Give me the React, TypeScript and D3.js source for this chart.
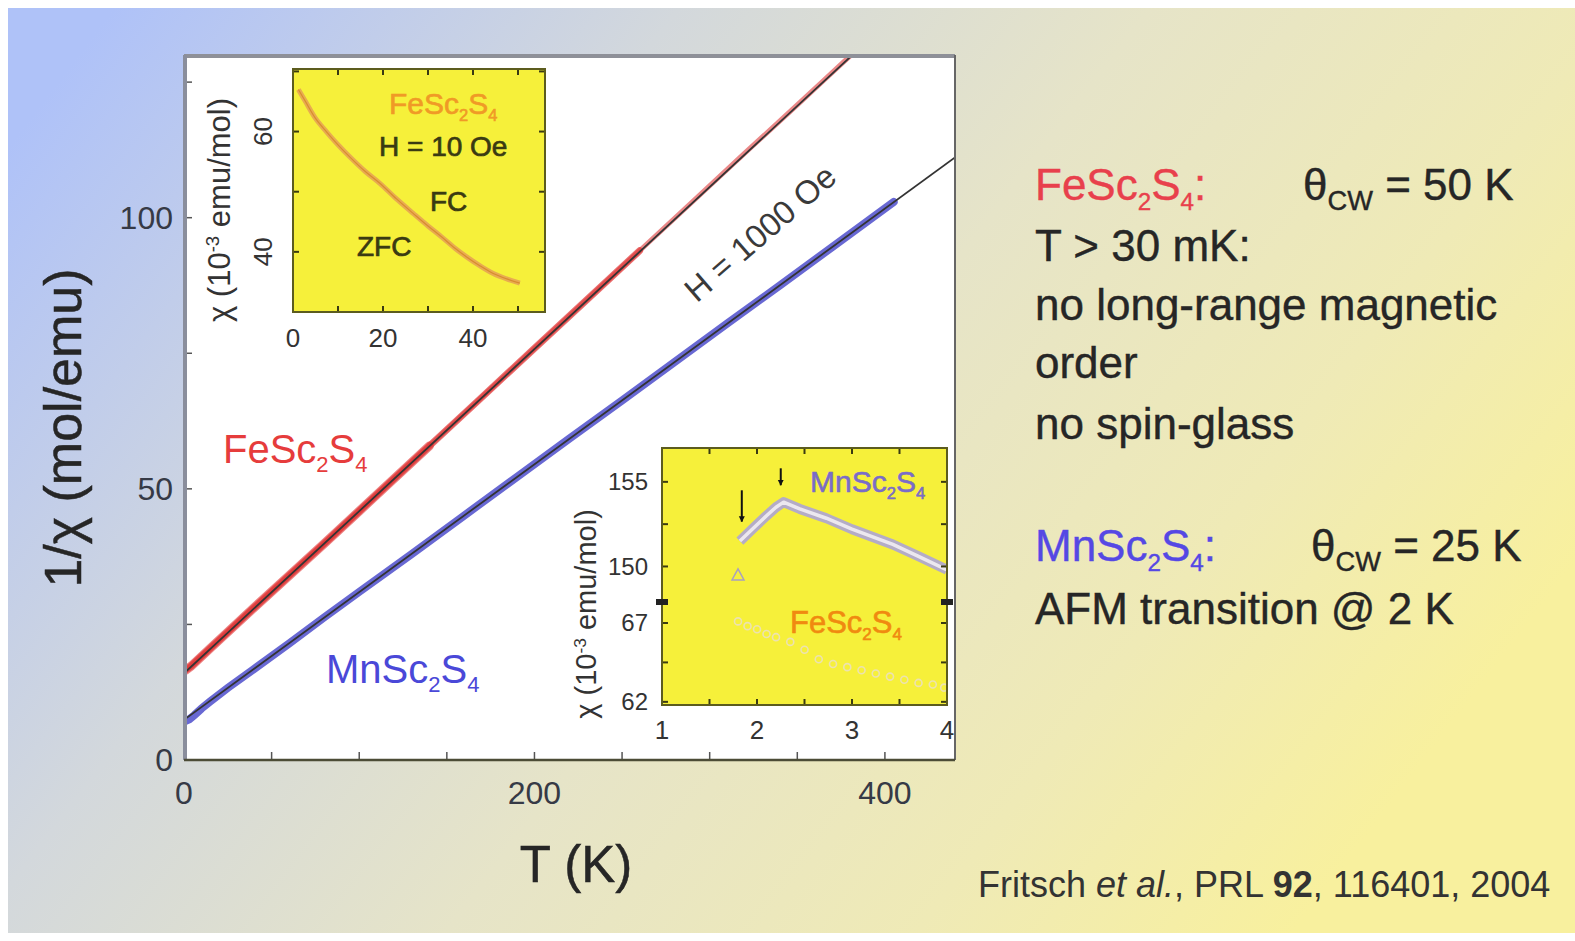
import * as d3 from 'd3';

const FONT = '"Liberation Sans", Arial, Helvetica, sans-serif';

// main panel: 1/chi (mol/emu) vs T (K), H = 1000 Oe
const feT = [1, 4, 8, 15, 25, 40, 60, 80, 100, 120, 140, 170, 200, 230, 260, 290, 320, 350, 365, 380];
const feInvChi = [16.6, 17.3, 18.5, 20.6, 23.6, 28.1, 34.0, 39.9, 45.9, 51.9, 57.9, 66.9, 75.9, 84.9, 93.9, 102.9, 111.9, 120.8, 125.3, 129.8];
const mnT = [1, 3, 6, 10, 15, 25, 40, 60, 80, 100, 130, 160, 190, 220, 250, 280, 310, 340, 370, 405];
const mnInvChi = [7.2, 7.5, 8.3, 9.5, 10.8, 13.3, 16.8, 21.5, 26.3, 31.0, 38.0, 45.1, 52.2, 59.3, 66.3, 73.4, 80.5, 87.5, 94.6, 102.9];
const fitT = [0, 440];
const feFit = [16.0, 147.5];
const mnFit = [7.4, 111.1];
const mainXTicks = [0, 200, 400];
const mainXMinor = [50, 100, 150, 250, 300, 350];
const mainYTicks = [0, 50, 100];
const mainYMinor = [25, 75, 125];

// inset 1: FeSc2S4 chi (1e-3 emu/mol) vs T, H = 10 Oe
const in1T = [1.2, 3, 5, 7.4, 10, 12.6, 16, 19.3, 23, 26.7, 30, 33, 36, 38.5, 41.5, 44.5, 47.5, 50.4];
const in1Chi = [67.0, 64.7, 62.2, 60.0, 57.8, 55.8, 53.4, 51.4, 48.8, 46.4, 44.3, 42.5, 40.6, 39.2, 37.7, 36.4, 35.5, 34.8];
const in1XTicks = [0, 10, 20, 30, 40, 50];
const in1XLabels = [0, 20, 40];
const in1YTicks = [40, 50, 60, 70];
const in1YLabels = [40, 60];

// inset 2: low-T chi, broken y axis
const in2MnT = [1.82, 1.95, 2.1, 2.2, 2.28, 2.45, 2.73, 3.0, 3.43, 3.7, 4.0];
const in2MnChi = [151.5, 152.2, 153.0, 153.5, 153.8, 153.4, 152.85, 152.2, 151.3, 150.6, 149.8];
const in2MnLoneT = [1.8];
const in2MnLoneChi = [149.5];
const in2FeT = [1.8, 1.9, 2.0, 2.1, 2.2, 2.35, 2.5, 2.65, 2.8, 2.95, 3.1, 3.25, 3.4, 3.55, 3.7, 3.85, 3.97];
const in2FeChi = [67.1, 66.8, 66.6, 66.3, 66.1, 65.8, 65.3, 64.7, 64.4, 64.2, 64.0, 63.8, 63.6, 63.4, 63.2, 63.1, 62.9];
const in2ArrowT = [1.84, 2.25];
const in2ArrowFrom = [154.5, 155.8];
const in2ArrowTo = [152.65, 154.8];
const in2XTicks = [1, 1.5, 2, 2.5, 3, 3.5, 4];
const in2XLabels = [1, 2, 3, 4];
const in2UpTicks = [150, 152.5, 155];
const in2UpLabels = [150, 155];
const in2LoTicks = [62, 64.5, 67];
const in2LoLabels = [62, 67];

type Part = { t: string; s?: number; d?: number };

function Chem({ x, y, size, color, parts, weight, anchor, transform, stroke }: any) {
  let off = 0;
  return (
    <text x={x} y={y} fontSize={size} fill={color} fontFamily={FONT} fontWeight={weight}
      textAnchor={anchor} transform={transform} stroke={stroke ? color : undefined} strokeWidth={stroke}>
      {(parts as Part[]).map((p, i) => {
        const target = (p.d || 0) * size;
        const dy = target - off;
        off = target;
        return (
          <tspan key={i} dy={dy} fontSize={size * (p.s || 1)}>{p.t}</tspan>
        );
      })}
    </text>
  );
}

const fe = (suffix = ''): Part[] => [
  { t: 'FeSc' }, { t: '2', s: 0.55, d: 0.22 }, { t: 'S' }, { t: '4', s: 0.55, d: 0.22 }, { t: suffix },
];
const mn = (suffix = ''): Part[] => [
  { t: 'MnSc' }, { t: '2', s: 0.55, d: 0.22 }, { t: 'S' }, { t: '4', s: 0.55, d: 0.22 }, { t: suffix },
];
const chiLabel: Part[] = [{ t: 'χ (10' }, { t: '-3', s: 0.6, d: -0.35 }, { t: ' emu/mol)' }];

export default function App() {
  const x = d3.scaleLinear().domain([0, 440]).range([184, 955]);
  const y = d3.scaleLinear().domain([0, 130]).range([760, 55]);
  const line = d3.line<number[]>().x((d) => x(d[0])).y((d) => y(d[1]));

  const fePts = feT.map((t, i) => [t, feInvChi[i]]);
  const mnPts = mnT.map((t, i) => [t, mnInvChi[i]]);
  const feFitPts = fitT.map((t, i) => [t, feFit[i]]);
  const mnFitPts = fitT.map((t, i) => [t, mnFit[i]]);

  const ix1 = d3.scaleLinear().domain([0, 56]).range([293, 545]);
  const iy1 = d3.scaleLinear().domain([30, 70.4]).range([312, 69]);
  const line1 = d3.line<number[]>().x((d) => ix1(d[0])).y((d) => iy1(d[1])).curve(d3.curveCatmullRom);

  const ix2 = d3.scaleLinear().domain([1, 4]).range([662, 947]);
  const iyUp = d3.scaleLinear().domain([147.9, 157]).range([602, 448]);
  const iyLo = d3.scaleLinear().domain([61.8, 68.33]).range([705, 602]);
  const lineUp = d3.line<number[]>().x((d) => ix2(d[0])).y((d) => iyUp(d[1]));

  const ink = '#262626';
  const inkInset = '#3a3a12';
  const in1Path = line1(in1T.map((t, i) => [t, in1Chi[i]])) || '';
  const mnPath = lineUp(in2MnT.map((t, i) => [t, in2MnChi[i]])) || '';

  return (
    <svg width={1575} height={941} style={{ position: 'absolute', left: 0, top: 0 }} fontFamily={FONT}>
      <defs>
        <linearGradient id="bg" x1="0" y1="0.15" x2="1" y2="0.6">
          <stop offset="0" stopColor="#afc2f8" />
          <stop offset="0.3" stopColor="#d3d8dc" />
          <stop offset="0.55" stopColor="#e6e4c8" />
          <stop offset="0.8" stopColor="#efeab6" />
          <stop offset="1" stopColor="#f8f09e" />
        </linearGradient>
        <clipPath id="clipMain"><rect x={184} y={55} width={771} height={705} /></clipPath>
        <clipPath id="clipIn1"><rect x={293} y={69} width={252} height={243} /></clipPath>
        <clipPath id="clipIn2"><rect x={662} y={448} width={285} height={257} /></clipPath>
        <marker id="arr" viewBox="0 0 10 10" refX="9" refY="5" markerWidth="3" markerHeight="3.5" orient="auto">
          <path d="M0,0 L10,5 L0,10 z" fill="#111" />
        </marker>
      </defs>

      <rect x={8} y={8} width={1567} height={925} fill="url(#bg)" />

      {/* main panel */}
      <rect x={184} y={55} width={771} height={705} fill="#fff" />
      <g clipPath="url(#clipMain)">
        <path d={line(fePts) || ''} fill="none" stroke="#dc3838" strokeWidth={5} strokeOpacity={0.6} />
        <path d={line(fePts.filter((d) => d[0] <= 260)) || ''} fill="none" stroke="#e03434" strokeWidth={7} strokeOpacity={0.7} strokeLinecap="round" />
        <path d={line(fePts.filter((d) => d[0] <= 140)) || ''} fill="none" stroke="#e03434" strokeWidth={9} strokeOpacity={0.6} strokeLinecap="round" />
        <path d={line(mnPts) || ''} fill="none" stroke="#3636c4" strokeWidth={8} strokeOpacity={0.75} strokeLinecap="round" />
        <path d={line(feFitPts) || ''} fill="none" stroke="#333" strokeWidth={1.8} />
        <path d={line(mnFitPts) || ''} fill="none" stroke="#333" strokeWidth={1.8} />
      </g>
      {mainXMinor.concat(mainXTicks).map((t) => (
        <line key={'xt' + t} x1={x(t)} x2={x(t)} y1={760} y2={752} stroke="#555" strokeWidth={1.5} />
      ))}
      {mainYMinor.concat(mainYTicks).map((t) => (
        <line key={'yt' + t} x1={184} x2={192} y1={y(t)} y2={y(t)} stroke="#555" strokeWidth={1.5} />
      ))}
      <line x1={184} x2={955} y1={56} y2={56} stroke="#8e9098" strokeWidth={4} />
      <line x1={185} x2={185} y1={55} y2={760} stroke="#8a8e9c" strokeWidth={4} />
      <line x1={955} x2={955} y1={55} y2={760} stroke="#666" strokeWidth={2} />
      <line x1={184} x2={955} y1={760} y2={760} stroke="#4c4c36" strokeWidth={2.5} />

      {mainXTicks.map((t) => (
        <text key={'xl' + t} x={x(t)} y={793} dy="0.35em" textAnchor="middle" fontSize={32} fill="#363a46">{t}</text>
      ))}
      {mainYTicks.map((t) => (
        <text key={'yl' + t} x={173} y={y(t)} dy="0.35em" textAnchor="end" fontSize={32} fill="#363a46">{t}</text>
      ))}
      <text transform="translate(63,428) rotate(-90)" dy="0.35em" textAnchor="middle" fontSize={52} fill={ink} stroke={ink} strokeWidth={0.5}>1/χ (mol/emu)</text>
      <text x={576} y={864} dy="0.35em" textAnchor="middle" fontSize={51} fill={ink} stroke={ink} strokeWidth={0.5}>T (K)</text>

      <Chem x={223} y={463} size={40} color="#e63c3c" parts={fe()} />
      <Chem x={326} y={683} size={40} color="#4a48d8" parts={mn()} />
      <text transform="translate(760,233) rotate(-41)" dy="0.35em" textAnchor="middle" fontSize={33} fill="#3a3a3a">H = 1000 Oe</text>

      {/* inset 1 */}
      <rect x={293} y={69} width={252} height={243} fill="#f6f03a" />
      <g clipPath="url(#clipIn1)">
        <path d={in1Path} fill="none" stroke="#e8ac50" strokeWidth={5} />
        <path d={in1Path} fill="none" stroke="#d88a30" strokeWidth={1.2} />
      </g>
      {in1XTicks.map((t) => (
        <g key={'i1x' + t}>
          <line x1={ix1(t)} x2={ix1(t)} y1={312} y2={306} stroke={inkInset} strokeWidth={2} />
          <line x1={ix1(t)} x2={ix1(t)} y1={69} y2={75} stroke={inkInset} strokeWidth={2} />
        </g>
      ))}
      {in1YTicks.map((t) => (
        <g key={'i1y' + t}>
          <line x1={293} x2={299} y1={iy1(t)} y2={iy1(t)} stroke={inkInset} strokeWidth={2} />
          <line x1={545} x2={539} y1={iy1(t)} y2={iy1(t)} stroke={inkInset} strokeWidth={2} />
        </g>
      ))}
      <rect x={293} y={69} width={252} height={243} fill="none" stroke="#5c5c1e" strokeWidth={2} />
      {in1XLabels.map((t) => (
        <text key={'i1xl' + t} x={ix1(t)} y={338} dy="0.35em" textAnchor="middle" fontSize={26} fill="#333">{t}</text>
      ))}
      {in1YLabels.map((t) => (
        <text key={'i1yl' + t} transform={`translate(263,${iy1(t)}) rotate(-90)`} dy="0.35em" textAnchor="middle" fontSize={26} fill="#333">{t}</text>
      ))}
      <Chem transform="translate(230,210) rotate(-90)" x={0} y={0} size={31} color="#333" anchor="middle" parts={chiLabel} />
      <Chem x={389} y={114} size={30} color="#f09a26" parts={fe()} stroke={0.6} />
      <text x={379} y={156} fontSize={28} fill={inkInset} stroke={inkInset} strokeWidth={0.7}>H = 10 Oe</text>
      <text x={430} y={211} fontSize={28} fill={inkInset} stroke={inkInset} strokeWidth={0.7}>FC</text>
      <text x={357} y={256} fontSize={28} fill={inkInset} stroke={inkInset} strokeWidth={0.7}>ZFC</text>

      {/* inset 2 */}
      <rect x={662} y={448} width={285} height={257} fill="#f6f03a" />
      <g clipPath="url(#clipIn2)">
        <path d={mnPath} fill="none" stroke="#b4acc6" strokeWidth={10} strokeLinejoin="round" />
        <path d={mnPath} fill="none" stroke="#ece8f0" strokeWidth={3.5} strokeLinejoin="round" />
        {in2MnLoneT.map((t, i) => {
          const cx = ix2(t), cy = iyUp(in2MnLoneChi[i]);
          return <path key={'lone' + i} d={`M${cx},${cy - 6} L${cx + 6},${cy + 5} L${cx - 6},${cy + 5} Z`} fill="none" stroke="#a8a0c0" strokeWidth={1.5} />;
        })}
        {in2FeT.map((t, i) => (
          <circle key={'fe2' + i} cx={ix2(t)} cy={iyLo(in2FeChi[i])} r={3.5} fill="none" stroke="#ece2b0" strokeWidth={1.6} />
        ))}
      </g>
      {in2ArrowT.map((t, i) => (
        <line key={'arr' + i} x1={ix2(t)} x2={ix2(t)} y1={iyUp(in2ArrowFrom[i])} y2={iyUp(in2ArrowTo[i])}
          stroke="#111" strokeWidth={2} markerEnd="url(#arr)" />
      ))}
      {in2XTicks.map((t) => (
        <g key={'i2x' + t}>
          <line x1={ix2(t)} x2={ix2(t)} y1={705} y2={699} stroke={inkInset} strokeWidth={2} />
          <line x1={ix2(t)} x2={ix2(t)} y1={448} y2={454} stroke={inkInset} strokeWidth={2} />
        </g>
      ))}
      {in2UpTicks.map((t) => (
        <g key={'i2u' + t}>
          <line x1={662} x2={668} y1={iyUp(t)} y2={iyUp(t)} stroke={inkInset} strokeWidth={2} />
          <line x1={947} x2={941} y1={iyUp(t)} y2={iyUp(t)} stroke={inkInset} strokeWidth={2} />
        </g>
      ))}
      {in2LoTicks.map((t) => (
        <g key={'i2l' + t}>
          <line x1={662} x2={668} y1={iyLo(t)} y2={iyLo(t)} stroke={inkInset} strokeWidth={2} />
          <line x1={947} x2={941} y1={iyLo(t)} y2={iyLo(t)} stroke={inkInset} strokeWidth={2} />
        </g>
      ))}
      <rect x={662} y={448} width={285} height={257} fill="none" stroke="#5c5c1e" strokeWidth={2} />
      <rect x={656} y={599} width={12} height={6} fill="#222" />
      <rect x={941} y={599} width={12} height={6} fill="#222" />
      {in2XLabels.map((t) => (
        <text key={'i2xl' + t} x={ix2(t)} y={730} dy="0.35em" textAnchor="middle" fontSize={26} fill="#333">{t}</text>
      ))}
      {in2UpLabels.map((t) => (
        <text key={'i2ul' + t} x={648} y={iyUp(t)} dy="0.35em" textAnchor="end" fontSize={24} fill="#333">{t}</text>
      ))}
      {in2LoLabels.map((t) => (
        <text key={'i2ll' + t} x={648} y={iyLo(t)} dy="0.35em" textAnchor="end" fontSize={24} fill="#333">{t}</text>
      ))}
      <Chem transform="translate(596,614) rotate(-90)" x={0} y={0} size={29} color="#333" anchor="middle" parts={chiLabel} />
      <Chem x={810} y={492} size={30} color="#7a6cc8" parts={mn()} stroke={0.6} />
      <Chem x={790} y={633} size={31} color="#f08a10" parts={fe()} stroke={0.6} />

      {/* right-hand notes */}
      <g stroke={ink} strokeWidth={0.4}>
        <Chem x={1035} y={200} size={44} color="#e8404c" parts={fe(':')} stroke={0.4} />
        <Chem x={1303} y={200} size={44} color={ink} parts={[{ t: 'θ' }, { t: 'CW', s: 0.62, d: 0.22 }, { t: ' = 50 K' }]} stroke={0.4} />
        <text x={1035} y={261} fontSize={44} fill={ink}>T &gt; 30 mK:</text>
        <text x={1035} y={320} fontSize={44} fill={ink}>no long-range magnetic</text>
        <text x={1035} y={378} fontSize={44} fill={ink}>order</text>
        <text x={1035} y={439} fontSize={44} fill={ink}>no spin-glass</text>
        <Chem x={1035} y={561} size={44} color="#5548e4" parts={mn(':')} stroke={0.4} />
        <Chem x={1311} y={561} size={44} color={ink} parts={[{ t: 'θ' }, { t: 'CW', s: 0.62, d: 0.22 }, { t: ' = 25 K' }]} stroke={0.4} />
        <text x={1035} y={624} fontSize={44} fill={ink}>AFM transition @ 2 K</text>
      </g>

      <text x={978} y={897} fontSize={36} fill="#333">
        Fritsch <tspan fontStyle="italic">et al.</tspan>, PRL <tspan fontWeight="bold">92</tspan>, 116401, 2004
      </text>
    </svg>
  );
}
